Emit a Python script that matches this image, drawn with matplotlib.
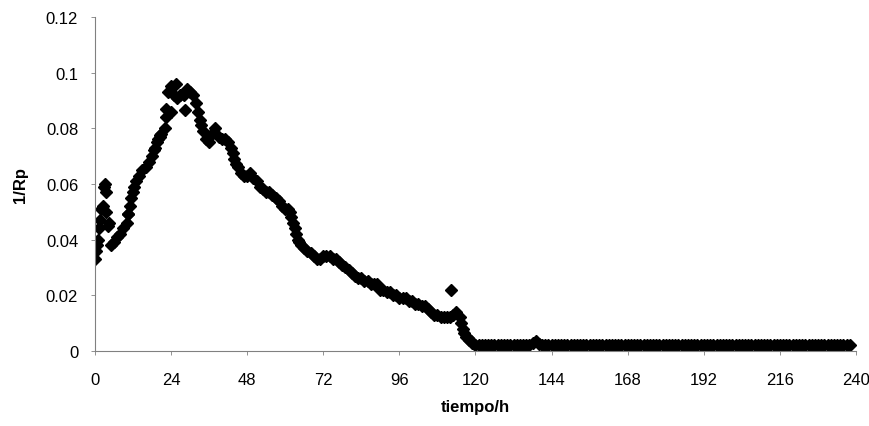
import matplotlib
matplotlib.use('Agg')
import matplotlib.pyplot as plt

plt.rcParams['font.family'] = ['Liberation Sans', 'DejaVu Sans']

# puntos dispersos al inicio y alrededor del maximo
t_disp = [0, 0.3, 0.6, 1.0, 1.3, 1.6, 2.0, 2.5, 2.8, 3.1, 3.4, 3.6, 4.1, 4.6,
          10.4, 20.5, 22.4, 24.0, 25.5, 28.4, 112.3]
v_disp = [0.033, 0.036, 0.038, 0.040, 0.044, 0.047, 0.051, 0.052, 0.059, 0.060,
          0.057, 0.050, 0.045, 0.046, 0.049, 0.0775, 0.084, 0.086, 0.096, 0.0865,
          0.022]

# serie principal, una lectura por hora (5 h a 120 h)
t_prin = list(range(5, 121))
v_prin = [0.038, 0.039, 0.041, 0.042, 0.044, 0.046, 0.052, 0.057, 0.061, 0.063,
          0.065, 0.066, 0.068, 0.070, 0.073, 0.076, 0.078, 0.080, 0.093, 0.095,
          0.092, 0.091, 0.092, 0.092, 0.094, 0.093, 0.092, 0.089, 0.083, 0.079,
          0.076, 0.075, 0.078, 0.080, 0.077, 0.076, 0.076, 0.075, 0.073, 0.069,
          0.066, 0.064, 0.063, 0.063, 0.064, 0.062, 0.061, 0.059, 0.058, 0.057,
          0.057, 0.056, 0.055, 0.054, 0.052, 0.051, 0.051, 0.048, 0.044, 0.040,
          0.038, 0.037, 0.036, 0.035, 0.034, 0.033, 0.033, 0.034, 0.034, 0.034,
          0.033, 0.033, 0.032, 0.031, 0.030, 0.029, 0.028, 0.027, 0.026, 0.026,
          0.025, 0.025, 0.024, 0.024, 0.024, 0.022, 0.022, 0.021, 0.021, 0.020,
          0.020, 0.019, 0.019, 0.019, 0.018, 0.018, 0.017, 0.017, 0.016, 0.016,
          0.015, 0.014, 0.013, 0.013, 0.012, 0.012, 0.012, 0.012, 0.013, 0.014,
          0.012, 0.008, 0.005, 0.004, 0.003, 0.002]

# lecturas intermedias (media hora) en los tramos de bajada rapida
t_med = [10.5, 11.5, 12.5, 18.5, 19.5, 20.5, 22.5, 32.5, 33.5, 43.5, 44.5,
         61.5, 62.5, 63.5, 64.5, 115.5, 116.5, 117.5, 118.5]
v_med = [0.049, 0.055, 0.059, 0.072, 0.075, 0.077, 0.087, 0.086, 0.081, 0.071, 0.067,
         0.050, 0.046, 0.042, 0.039, 0.010, 0.0065, 0.0045, 0.0035]

# tramo final casi constante (121 h a 238 h)
t_fin = list(range(121, 239))
v_fin = [0.0022, 0.0021, 0.0020, 0.0021, 0.0020, 0.0020, 0.0021, 0.0020, 0.0020, 0.0021,
         0.0020, 0.0020, 0.0021, 0.0020, 0.0020, 0.0021, 0.0022, 0.0028, 0.0035, 0.0025,
         0.0021, 0.0020, 0.0021, 0.0020, 0.0020, 0.0021, 0.0020, 0.0020, 0.0021, 0.0020,
         0.0020, 0.0021, 0.0020, 0.0020, 0.0021, 0.0020, 0.0020, 0.0021, 0.0020, 0.0020,
         0.0021, 0.0020, 0.0020, 0.0021, 0.0020, 0.0020, 0.0021, 0.0020, 0.0020, 0.0021,
         0.0020, 0.0020, 0.0021, 0.0020, 0.0020, 0.0021, 0.0020, 0.0020, 0.0021, 0.0020,
         0.0020, 0.0021, 0.0020, 0.0020, 0.0021, 0.0020, 0.0020, 0.0021, 0.0020, 0.0020,
         0.0021, 0.0020, 0.0020, 0.0021, 0.0020, 0.0020, 0.0021, 0.0020, 0.0020, 0.0021,
         0.0020, 0.0020, 0.0021, 0.0020, 0.0020, 0.0021, 0.0020, 0.0020, 0.0021, 0.0020,
         0.0020, 0.0021, 0.0020, 0.0020, 0.0021, 0.0020, 0.0020, 0.0021, 0.0020, 0.0020,
         0.0021, 0.0020, 0.0020, 0.0021, 0.0020, 0.0020, 0.0021, 0.0020, 0.0020, 0.0021,
         0.0020, 0.0020, 0.0021, 0.0020, 0.0020, 0.0021, 0.0020, 0.0020]

xticks = [0, 24, 48, 72, 96, 120, 144, 168, 192, 216, 240]
yticks = [0, 0.02, 0.04, 0.06, 0.08, 0.1, 0.12]
ylabels = ['0', '0.02', '0.04', '0.06', '0.08', '0.1', '0.12']

fig = plt.figure(figsize=(8.7, 4.27), dpi=100)
ax = fig.add_axes([0.109, 0.176, 0.875, 0.782])

estilo = dict(marker='D', color='black', markersize=5.8, linestyle='none')
ax.plot(t_prin, v_prin, **estilo)
ax.plot(t_med, v_med, **estilo)
ax.plot(t_fin, v_fin, **estilo)
ax.plot(t_disp, v_disp, **estilo)

ax.set_xlim(0, 240)
ax.set_ylim(0, 0.12)
ax.set_xticks(xticks)
ax.set_yticks(yticks)
ax.set_yticklabels(ylabels)
ax.tick_params(labelsize=12, length=3, width=0.6, color='gray')
ax.tick_params(axis='x', pad=12)
ax.tick_params(axis='y', pad=9)

for lado in ['top', 'right']:
    ax.spines[lado].set_visible(False)
ax.spines['left'].set_color('gray')
ax.spines['left'].set_linewidth(0.8)
ax.spines['left'].set_linestyle((0, (5, 1)))
ax.spines['bottom'].set_color('gray')
ax.spines['bottom'].set_linewidth(0.8)

ax.set_xlabel('tiempo/h', fontsize=12, fontweight='bold', labelpad=9)
ax.set_ylabel('1/Rp', fontsize=12, fontweight='bold', labelpad=13)

fig.savefig('out.png', dpi=100)
